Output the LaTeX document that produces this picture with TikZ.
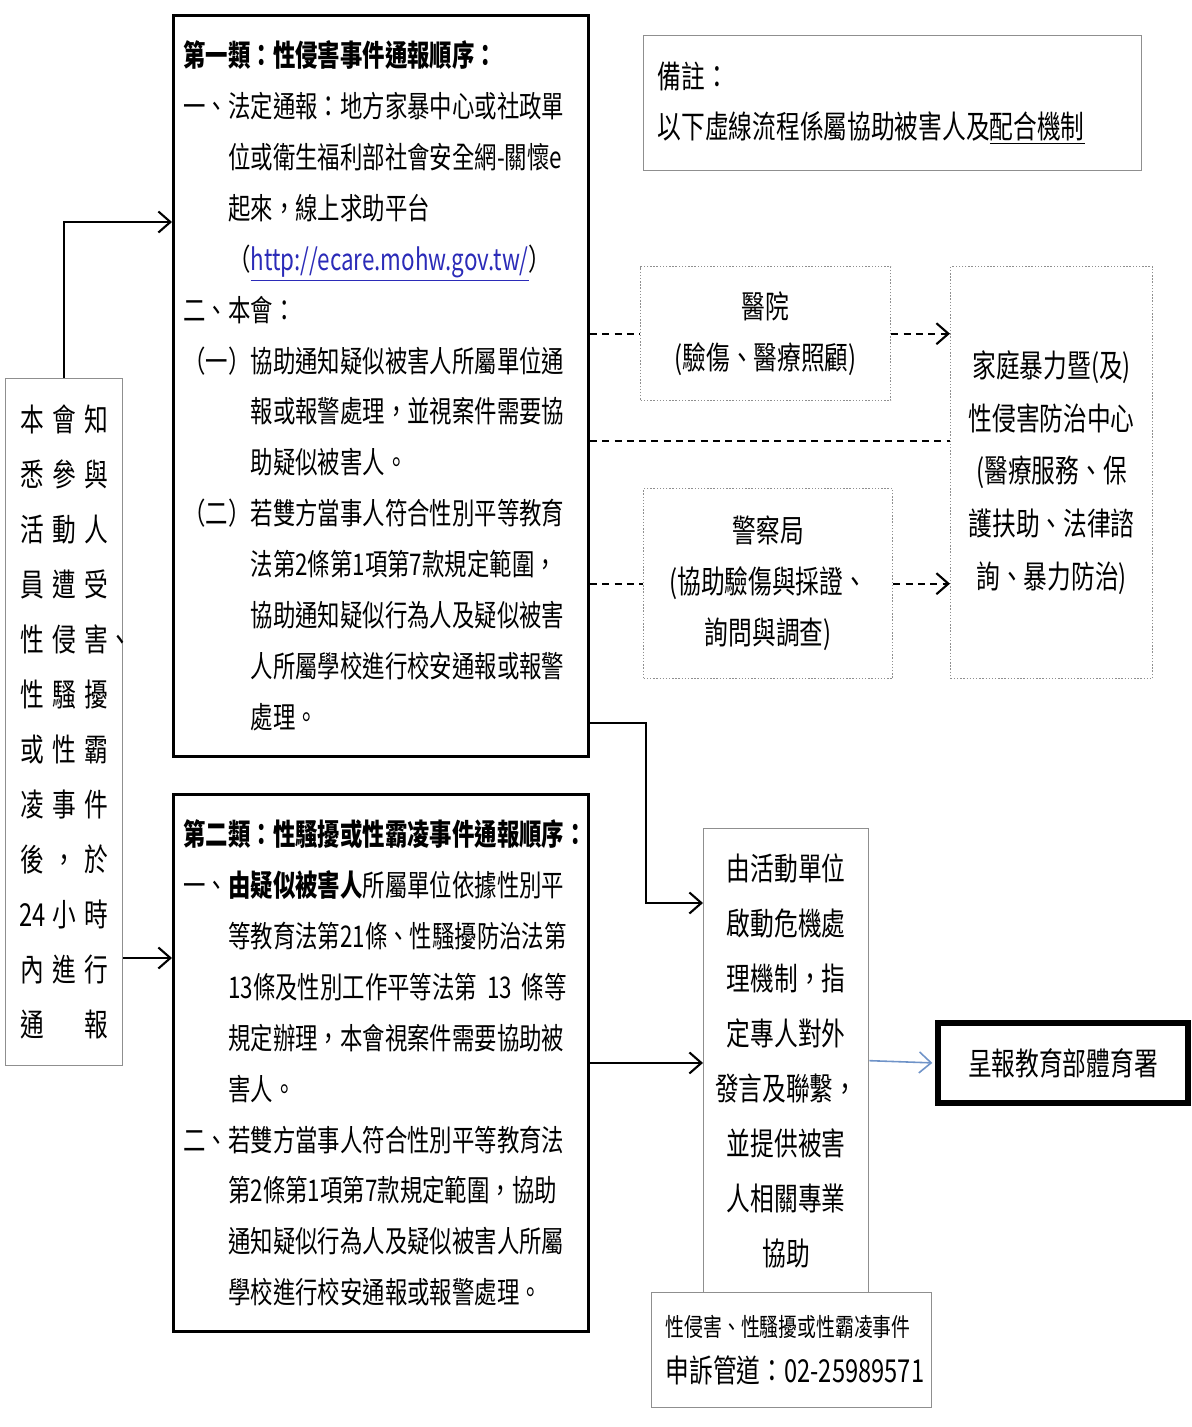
\documentclass[tikz,border=0pt]{standalone}
\usepackage{fontspec}
\setmainfont{Noto Sans CJK TC}[FakeStretch=0.75]
\usepackage{tikz}
\usetikzlibrary{arrows.meta,calc}
\usepackage{xcolor}
\definecolor{linkblue}{HTML}{2b2bb8}
\definecolor{steelline}{HTML}{6f93c8}
\definecolor{boxgray}{HTML}{8f8f8f}
\newcommand\trio[3]{\makebox[0.64cm]{#1}\makebox[0.64cm]{#2}\makebox[0.64cm]{#3}}

\begin{document}
\begin{tikzpicture}[x=0.02cm,y=-0.02cm,>={Straight Barb[length=0.24cm,width=0.42cm]},
  mainbox/.style={draw,line width=1.7pt,anchor=north west,inner xsep=0.2cm,inner ysep=0pt,
    text width=7.9cm,align=left,font=\fontsize{17pt}{29pt}\selectfont},
  thinbox/.style={draw=boxgray,line width=0.8pt,anchor=north west,inner sep=0pt,
    font=\fontsize{18pt}{29pt}\selectfont},
  dotbox/.style={thinbox,densely dotted},
  finalbox/.style={draw,line width=3.4pt,anchor=north west,inner sep=0pt,
    font=\fontsize{18pt}{29pt}\selectfont},
  arr/.style={->,line width=1.2pt},
  dashline/.style={line width=1.2pt,dash pattern=on 4pt off 3pt}]
  \useasboundingbox (0,0) rectangle (1192,1427);

  \node[thinbox,minimum width=2.34cm,minimum height=13.74cm,text width=1.92cm,align=left,
    font=\fontsize{18pt}{31.3pt}\selectfont] (notice) at (5,378) {%
    \trio{本}{會}{知}\\
    \trio{悉}{參}{與}\\
    \trio{活}{動}{人}\\
    \trio{員}{遭}{受}\\
    \trio{性}{侵}{害\rlap{、}}\\
    \trio{性}{騷}{擾}\\
    \trio{或}{性}{霸}\\
    \trio{凌}{事}{件}\\
    \trio{後}{，}{於}\\
    \trio{24}{小}{時}\\
    \trio{內}{進}{行}\\
    \trio{通}{}{報}};

  \node[mainbox,minimum height=14.82cm] (box1) at (172,14) {%
    \textbf{第一類：性侵害事件通報順序：}\\
    一、法定通報：地方家暴中心或社政單\\
    \phantom{一、}位或衛生福利部社會安全網-關懷e\\
    \phantom{一、}起來，線上求助平台\\
    \phantom{一、}（\textcolor{linkblue}{\underline{http://ecare.mohw.gov.tw/}}）\\
    二、本會：\\
    （一）協助通知疑似被害人所屬單位通\\
    \phantom{（一）}報或報警處理，並視案件需要協\\
    \phantom{（一）}助疑似被害人。\\
    （二）若雙方當事人符合性別平等教育\\
    \phantom{（二）}法第2條第1項第7款規定範圍，\\
    \phantom{（二）}協助通知疑似行為人及疑似被害\\
    \phantom{（二）}人所屬學校進行校安通報或報警\\
    \phantom{（二）}處理。};

  \node[mainbox,minimum height=10.74cm] (box2) at (172,793) {%
    \textbf{第二類：性騷擾或性霸凌事件通報順序：}\\
    一、\textbf{由疑似被害人}所屬單位依據性別平\\
    \phantom{一、}等教育法第21條、性騷擾防治法第\\
    \phantom{一、}13條及性別工作平等法第 13 條等\\
    \phantom{一、}規定辦理，本會視案件需要協助被\\
    \phantom{一、}害人。\\
    二、若雙方當事人符合性別平等教育法\\
    \phantom{二、}第2條第1項第7款規定範圍，協助\\
    \phantom{二、}通知疑似行為人及疑似被害人所屬\\
    \phantom{二、}學校進行校安通報或報警處理。};

  \node[thinbox,minimum width=9.96cm,minimum height=2.7cm,text width=9.4cm,align=left,
    font=\fontsize{18pt}{28.5pt}\selectfont] (note) at (643,35)
    {備註：\\以下虛線流程係屬協助被害人及\underline{配合機制}};

  \node[dotbox,minimum width=5cm,minimum height=2.68cm,align=center] (hosp) at (640,266)
    {醫院\\(驗傷、醫療照顧)};
  \node[dotbox,minimum width=4.98cm,minimum height=3.8cm,align=center] (pol) at (643,488)
    {警察局\\(協助驗傷與採證、\\詢問與調查)};
  \node[dotbox,minimum width=4.04cm,minimum height=8.24cm,align=center,
    font=\fontsize{18pt}{30pt}\selectfont] (dvc) at (950,266)
    {家庭暴力暨(及)\\性侵害防治中心\\(醫療服務、保\\護扶助、法律諮\\詢、暴力防治)};

  \node[thinbox,minimum width=3.3cm,minimum height=9.28cm,align=center,
    font=\fontsize{18pt}{31.3pt}\selectfont] (act) at (703,828)
    {由活動單位\\啟動危機處\\理機制，指\\定專人對外\\發言及聯繫，\\並提供被害\\人相關專業\\協助};
  \node[thinbox,minimum width=5.6cm,minimum height=2.3cm,text width=5.04cm,align=left,
    font=\fontsize{18pt}{26pt}\selectfont] (appeal) at (651,1292)
    {{\fontsize{14.3pt}{20pt}\selectfont 性侵害、性騷擾或性霸凌事件}\\\mbox{申訴管道：02-25989571}};
  \node[finalbox,minimum width=5cm,minimum height=1.6cm] (final) at (935,1020) {呈報教育部體育署};

  % solid flow
  \coordinate (in2) at ($(box2.north west)+(0,165)$);
  \coordinate (out3) at ($(box1.south east)+(0,-35)$);
  \coordinate (in3) at ($(act.north west)+(0,75)$);
  \draw[arr] (notice.north) |- ($(box1.north west)+(0,208)$);
  \draw[arr] (notice.east |- in2) -- (in2);
  \draw[arr] (out3) -- ++(56,0) |- (in3);
  \draw[arr] (box2.east) -- (box2.east -| act.west);
  \draw[->,steelline,line width=0.9pt,shorten >=1.5pt] (act.east) -- (final.west);

  % dashed helpers
  \coordinate (dvcin) at ($(dvc.north west)+(0,175)$);
  \draw[dashline] (box1.east |- hosp.west) -- (hosp.west);
  \draw[dashline] (box1.east |- dvcin) -- (dvcin);
  \draw[dashline] (box1.east |- pol.west) -- (pol.west);
  \draw[arr,dashline] (hosp.east) -- (hosp.east -| dvc.west);
  \draw[arr,dashline] (pol.east) -- (pol.east -| dvc.west);
\end{tikzpicture}
\end{document}
